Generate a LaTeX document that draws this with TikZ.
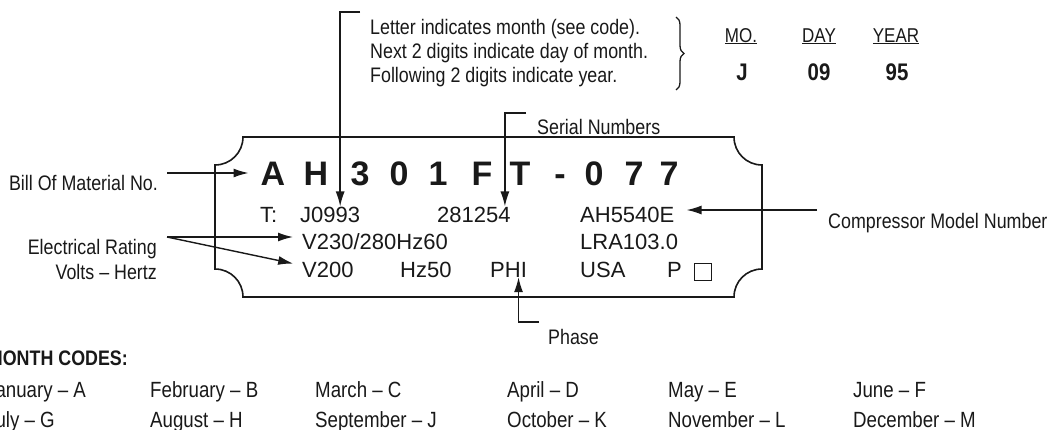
\documentclass[tikz,border=0pt]{standalone}
\usepackage{fontspec}
\setmainfont{Liberation Sans}
\newfontfamily\condfont[FakeStretch=0.85]{Liberation Sans}
\usepackage{tikz}
\usetikzlibrary{arrows.meta, calc, decorations.pathreplacing}
\definecolor{plateink}{RGB}{25, 25, 25}

\begin{document}
\begin{tikzpicture}[x=1pt, y=-1pt,
    label/.style={font=\condfont\fontsize{21}{24}\selectfont, inner sep=0pt, text=plateink},
    stamp/.style={font=\fontsize{22}{26}\selectfont, inner sep=0pt, anchor=base west, text=plateink},
    bigchar/.style={font=\bfseries\fontsize{34}{40}\selectfont, inner sep=0pt, anchor=base, text=plateink},
    datehead/.style={font=\condfont\fontsize{20}{22}\selectfont, inner sep=0pt, anchor=base, text=plateink},
    dateval/.style={font=\condfont\bfseries\fontsize{24}{26}\selectfont, inner sep=0pt, anchor=base, text=plateink},
    month/.style={font=\condfont\fontsize{22}{24}\selectfont, inner sep=0pt, anchor=base west, text=plateink},
    pointer/.style={-{Latex[length=15pt, width=9pt]}, line width=1.4pt, draw=plateink}]
    \useasboundingbox (0,0) rectangle (1052,429);
    \fill[white] (0,0) rectangle (1052,429);

    % Name plate outline
    \draw[line width=1.6pt, plateink] (243,137) -- (734,137)
        .. controls (734,152.5) and (746.5,165) .. (762,165) -- (762,269)
        .. controls (746.5,269) and (734,281.5) .. (734,297) -- (243,297)
        .. controls (243,281.5) and (230.5,269) .. (215,269) -- (215,165)
        .. controls (230.5,165) and (243,152.5) .. (243,137) -- cycle;

    % Bill of material number
    \foreach \cx/\glyph [count=\idx] in {273/A, 316/H, 360/3, 399/0, 438/1, 482/F, 520/T, 560/-, 594/0, 634/7, 669/7}
        \node[bigchar] (ch\idx) at (\cx,185) {\glyph};

    % Stamped rows
    \node[stamp] (tcode) at (260,222) {T:};
    \node[stamp] (datecode) at (300,222) {J0993};
    \node[stamp] (sernum) at (437,222) {281254};
    \node[stamp] (model) at (580,222) {AH5540E};
    \node[stamp] (volts1) at (302,249) {V230/280Hz60};
    \node[stamp] (lra) at (580,249) {LRA103.0};
    \node[stamp] (volts2) at (302,277) {V200};
    \node[stamp] (hertz) at (400,277) {Hz50};
    \node[stamp] (phi) at (490,277) {PHI};
    \node[stamp] (country) at (580,277) {USA};
    \node[stamp] (pmark) at (667,277) {P};
    \node[draw=plateink, line width=1pt, minimum size=17pt, inner sep=0pt] (pbox) at (703,271.5) {};

    % Left callouts
    \node[label, anchor=base east] (bom) at (158,190) {Bill Of Material No.};
    \node[label, anchor=base east] (elec1) at (157,254) {Electrical Rating};
    \node[label, anchor=base east] (elec2) at (157,279) {Volts – Hertz};
    \coordinate (bomstart) at (167,173);
    \coordinate (elecfork) at (167,237);
    \draw[pointer, shorten >=12pt] (bomstart) -- (bomstart -| ch1.west);
    \draw[pointer, shorten >=9pt] (elecfork) -- (elecfork -| volts1.west);
    \draw[pointer, shorten >=9pt] (elecfork) -- ($(volts2.west)+(0,-4)$);

    % Right callout
    \node[label, anchor=base west] (cmp) at (828,228) {Compressor Model Number};
    \coordinate (cmpstart) at (817,210);
    \draw[pointer, shorten >=12pt] (cmpstart) -- (cmpstart -| model.east);

    % Date code note
    \node[label, anchor=base west] (note1) at (370,34) {Letter indicates month (see code).};
    \node[label, anchor=base west] (note2) at (370,58) {Next 2 digits indicate day of month.};
    \node[label, anchor=base west] (note3) at (370,82) {Following 2 digits indicate year.};
    \coordinate (notehook) at (360,12);
    \draw[pointer] (notehook) -| ([xshift=10pt]datecode.north);
    \draw[decorate, decoration={brace, amplitude=8pt}, line width=1.3pt, plateink] (676,17) -- (676,90);
    \node[datehead] (mo) at (741,42) {\underline{MO.}};
    \node[datehead] (day) at (819,42) {\underline{DAY}};
    \node[datehead] (yr) at (896,42) {\underline{YEAR}};
    \node[dateval] (moval) at (742,80) {J};
    \node[dateval] (dayval) at (819,80) {09};
    \node[dateval] (yrval) at (897,80) {95};

    % Serial numbers and phase
    \node[label, anchor=base west] (serial) at (537,134) {Serial Numbers};
    \coordinate (serialhook) at (526,113);
    \draw[pointer] (serialhook) -| ([xshift=31pt]sernum.north);
    \node[label, anchor=base west] (phase) at (548,344) {Phase};
    \coordinate (phasehook) at (539,322);
    \draw[pointer] (phasehook) -| ([xshift=10pt]phi.south);

    % Month codes
    \node[label, font=\condfont\bfseries\fontsize{21}{24}\selectfont, anchor=base east] (codes) at (128,365) {MONTH CODES:};
    \foreach \mx/\mfirst/\msecond [count=\k] in {-14/January – A/July – G, 150/February – B/August – H, 315/March – C/September – J, 507/April – D/October – K, 668/May – E/November – L, 853/June – F/December – M} {
        \node[month] (mtop\k) at (\mx,397) {\mfirst};
        \node[month] (mbot\k) at (\mx,427) {\msecond};
    }
\end{tikzpicture}
\end{document}
